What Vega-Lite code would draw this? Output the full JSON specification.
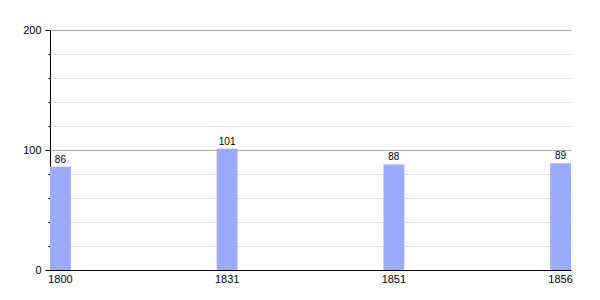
{
  "$schema": "https://vega.github.io/schema/vega-lite/v6.json",
  "width": 521,
  "height": 240,
  "autosize": {"type": "none"},
  "padding": {"left": 50, "top": 30, "right": 29, "bottom": 30},
  "background": "white",
  "config": {
    "view": {"stroke": null},
    "font": "Liberation Sans"
  },
  "data": {
    "values": [
      {"year": "1800", "population": 86},
      {"year": "1831", "population": 101},
      {"year": "1851", "population": 88},
      {"year": "1856", "population": 89}
    ]
  },
  "encoding": {
    "x": {
      "field": "year",
      "type": "ordinal",
      "sort": null,
      "scale": {"paddingInner": 0.875, "paddingOuter": 0},
      "axis": {
        "title": null,
        "labelAngle": 0,
        "ticks": false,
        "domainColor": "#000000",
        "domainWidth": 1,
        "labelColor": "#000000",
        "labelFontSize": 11,
        "labelPadding": 3
      }
    },
    "y": {
      "field": "population",
      "type": "quantitative",
      "scale": {"domain": [0, 200], "nice": false},
      "axis": {
        "title": null,
        "values": [0, 20, 40, 60, 80, 100, 120, 140, 160, 180, 200],
        "labelExpr": "datum.value % 100 === 0 ? datum.label : ''",
        "gridColor": {"condition": {"test": "datum.value % 100 === 0", "value": "#aaaaaa"}, "value": "#e4e4e4"},
        "tickSize": {"condition": {"test": "datum.value % 100 === 0", "value": 5}, "value": 2},
        "tickColor": "#000000",
        "domainColor": "#000000",
        "labelColor": "#000000",
        "labelFontSize": 11,
        "labelPadding": 4
      }
    }
  },
  "layer": [
    {
      "mark": {"type": "bar", "color": "#99aaff"}
    },
    {
      "mark": {"type": "text", "baseline": "bottom", "dy": -2, "fontSize": 10, "color": "#000000"},
      "encoding": {"text": {"field": "population", "type": "quantitative"}}
    }
  ]
}
